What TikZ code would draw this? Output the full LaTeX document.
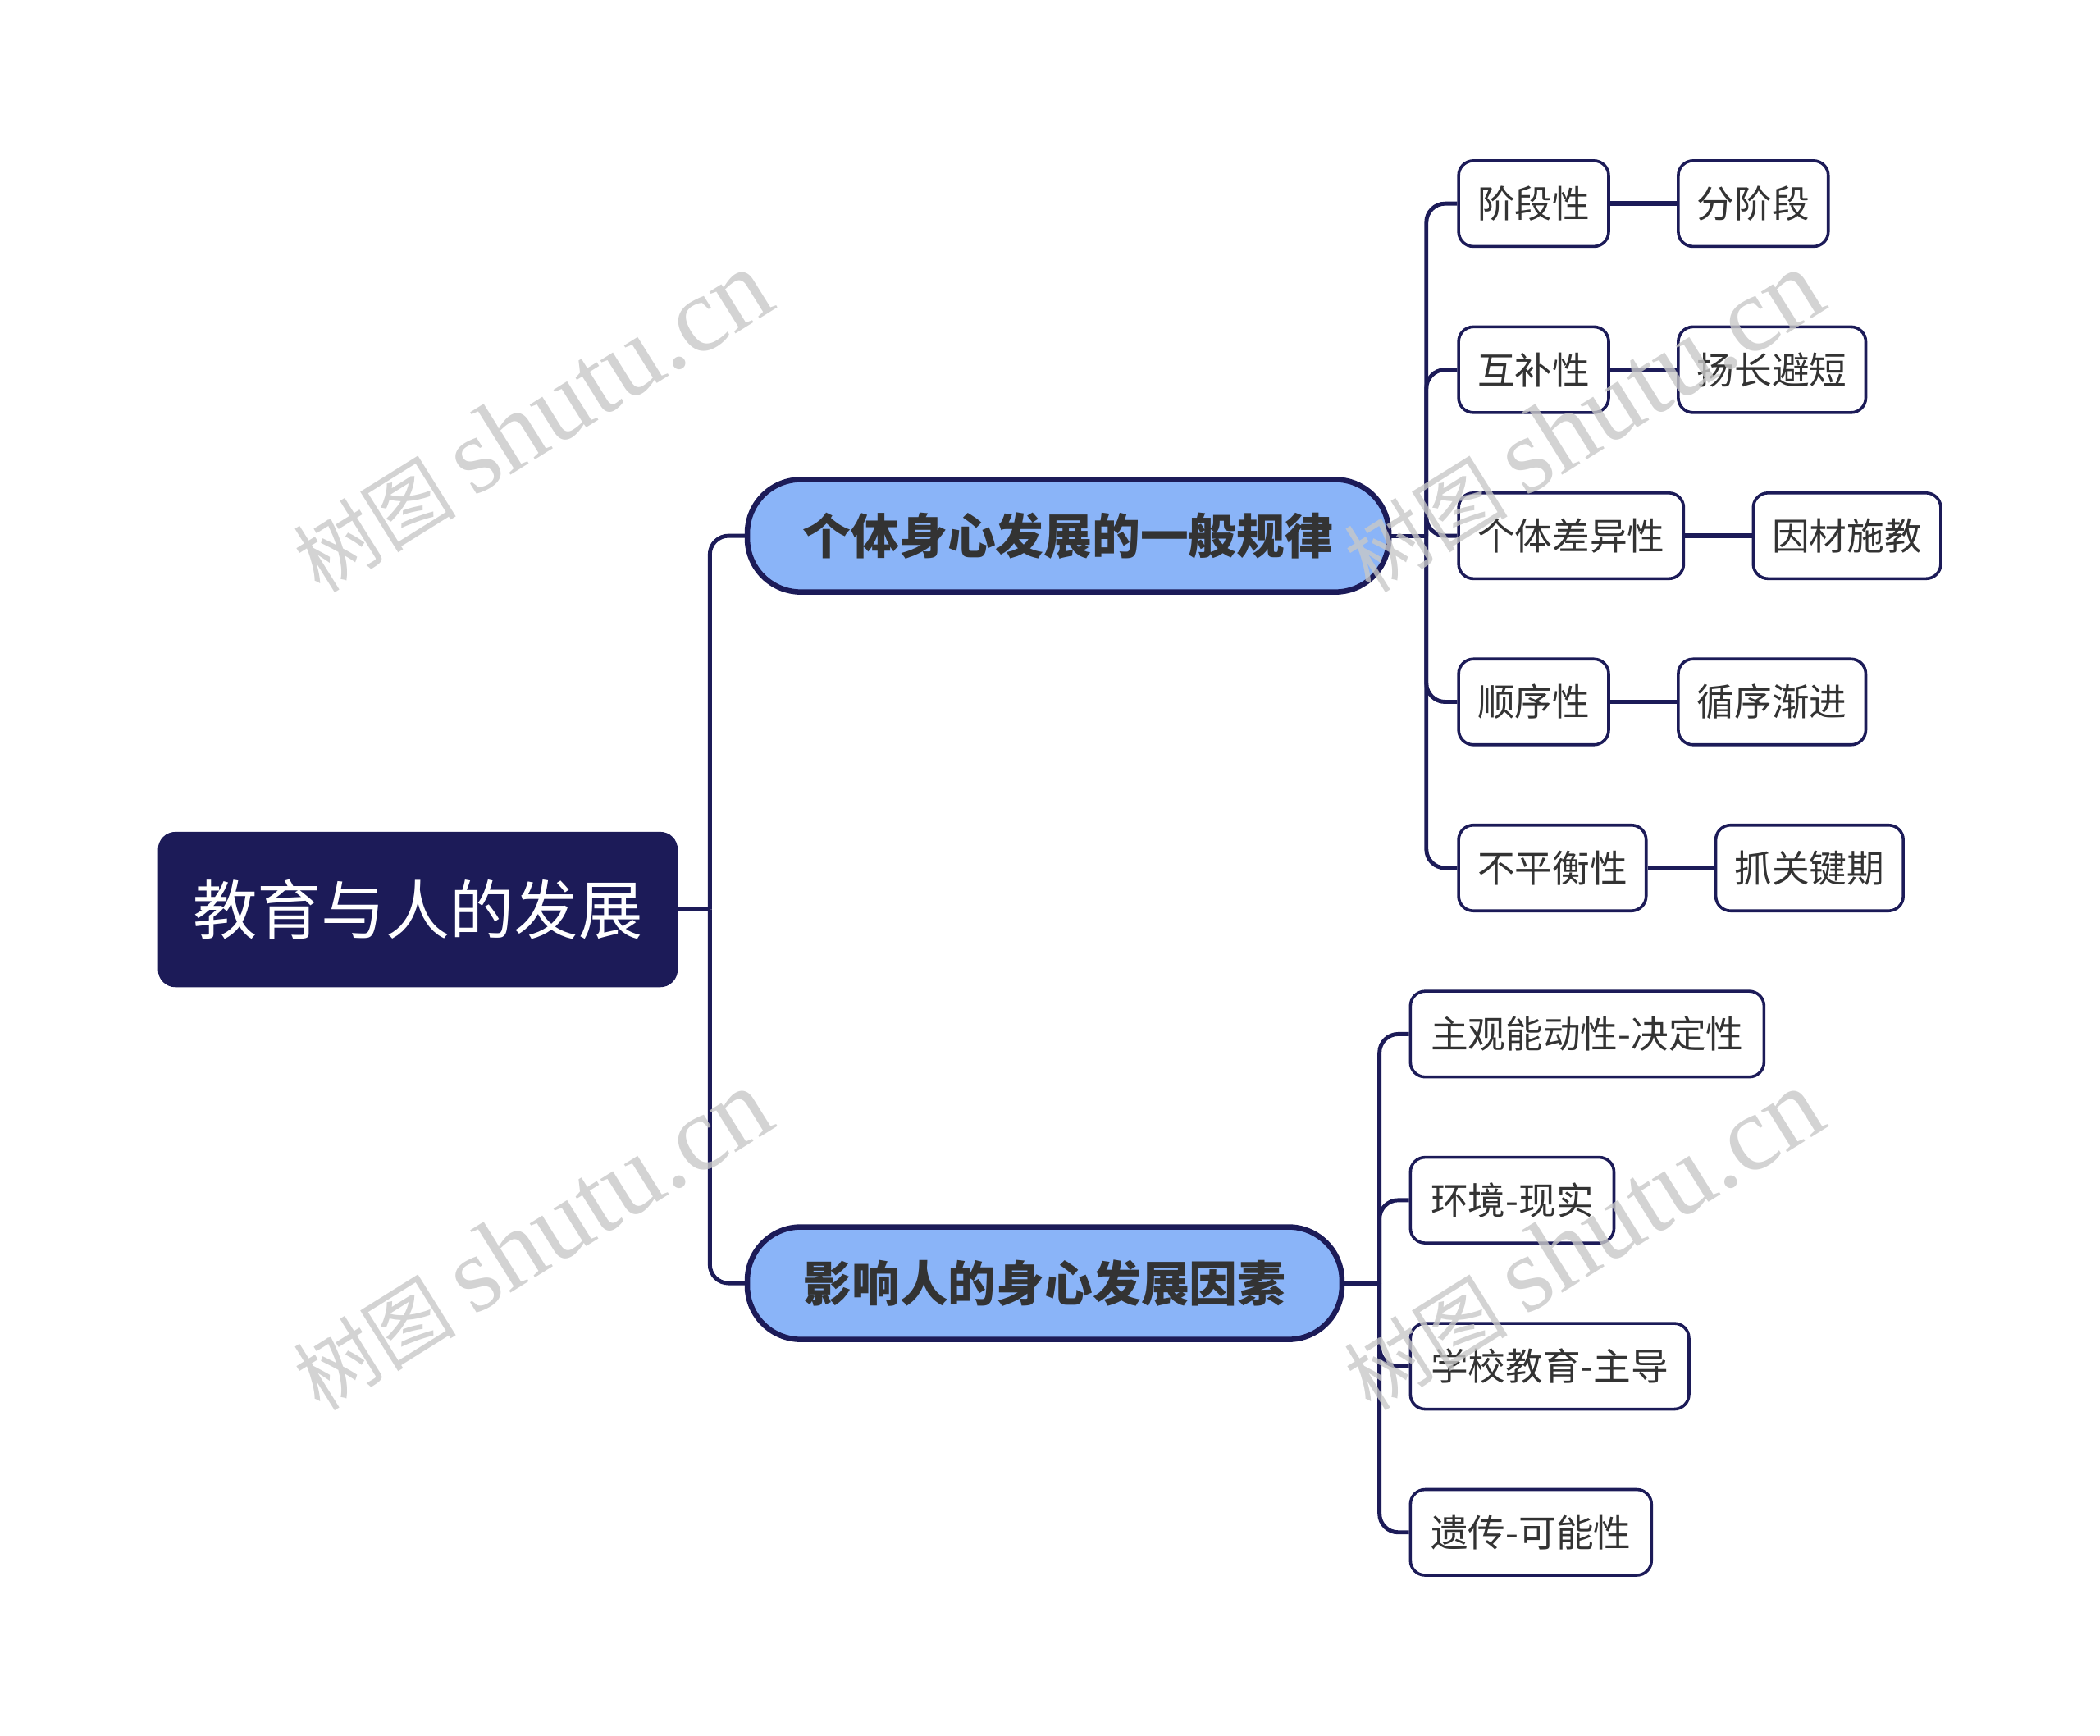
\documentclass[tikz,border=0pt]{standalone}
\usepackage{fontspec}
\newfontfamily\cjk{Noto Sans CJK SC}
\newfontfamily\wmlat{Liberation Serif}
\usetikzlibrary{calc}
\definecolor{navy}{HTML}{1C1B58}
\definecolor{mainblue}{HTML}{8AB4F8}
\definecolor{txt}{HTML}{333333}
\definecolor{wm}{HTML}{C8C8C8}
\tikzset{
  rootbox/.style={draw=navy, fill=navy, line width=2pt, rounded corners=12pt, text=white,
    font=\cjk\fontsize{48}{56}\selectfont, minimum width=386pt, minimum height=114pt, inner sep=0pt},
  mainbox/.style={draw=navy, fill=mainblue, line width=4pt, rounded corners=40pt, text=txt,
    font=\cjk\bfseries\fontsize{36}{44}\selectfont, minimum height=84pt, inner sep=0pt, anchor=west},
  leafbox/.style={draw=navy, fill=white, line width=2.2pt, rounded corners=11pt, text=txt,
    font=\cjk\fontsize{28}{34}\selectfont, minimum height=64pt, inner sep=0pt, anchor=west},
  conn/.style={draw=navy, line width=3pt, rounded corners=14pt},
  conn2/.style={draw=navy, line width=3.6pt},
  wmark/.style={text=wm, opacity=0.8, rotate=32, inner sep=0pt}
}
\begin{document}
\begin{tikzpicture}[x=1pt,y=-1pt]
\useasboundingbox (0,0) rectangle (1568,1296);
% root and main branches
\node[rootbox] (root) at (312,679) {教育与人的发展};
\node[mainbox, minimum width=479pt] (m1) at (556,400) {个体身心发展的一般规律};
\node[mainbox, minimum width=444pt] (m2) at (556,958) {影响人的身心发展因素};
% branch 1 leaves
\node[leafbox, minimum width=112pt] (a1) at (1088,152) {阶段性};
\node[leafbox, minimum width=112pt] (a2) at (1088,276) {互补性};
\node[leafbox, minimum width=168pt] (a3) at (1088,400) {个体差异性};
\node[leafbox, minimum width=112pt] (a4) at (1088,524) {顺序性};
\node[leafbox, minimum width=140pt] (a5) at (1088,648) {不平衡性};
\node[leafbox, minimum width=112pt] (b1) at (1252,152) {分阶段};
\node[leafbox, minimum width=140pt] (b2) at (1252,276) {扬长避短};
\node[leafbox, minimum width=140pt] (b3) at (1308,400) {因材施教};
\node[leafbox, minimum width=140pt] (b4) at (1252,524) {循序渐进};
\node[leafbox, minimum width=140pt] (b5) at (1280,648) {抓关键期};
% branch 2 leaves
\node[leafbox, minimum width=264pt] (c1) at (1052,772) {主观能动性-决定性};
\node[leafbox, minimum width=152pt] (c2) at (1052,896) {环境-现实};
\node[leafbox, minimum width=208pt] (c3) at (1052,1020) {学校教育-主导};
\node[leafbox, minimum width=180pt] (c4) at (1052,1144) {遗传-可能性};
% junctions
\coordinate (j0) at ($(root.east)+(24,0)$);
\coordinate (j1) at ($(m1.east)+(26,0)$);
\coordinate (j2) at ($(m2.east)+(26,0)$);
% connectors
\draw[conn] (root.east) -- (j0);
\draw[conn] (j0) |- (m1.west);
\draw[conn] (j0) |- (m2.west);
\draw[conn] (m1.east) -- (j1);
\foreach \n in {a1,a2,a3,a4,a5} { \draw[conn] (j1) |- (\n.west); }
\draw[conn] (m2.east) -- (j2);
\foreach \n in {c1,c2,c3,c4} { \draw[conn] (j2) |- (\n.west); }
\draw[conn2] (a1.east) -- (b1.west);
\draw[conn2] (a2.east) -- (b2.west);
\draw[conn2] (a3.east) -- (b3.west);
\draw[conn2] (a4.east) -- (b4.west);
\draw[conn2] (a5.east) -- (b5.west);
% watermarks
\foreach \p/\q in {397/315, 1182/315, 397/926, 1182/926} {
  \node[wmark] (w\p\q) at (\p,\q) {\cjk\fontsize{61}{66}\selectfont 树图\ \wmlat\fontsize{80}{86}\selectfont shutu.cn};
}
\end{tikzpicture}
\end{document}
